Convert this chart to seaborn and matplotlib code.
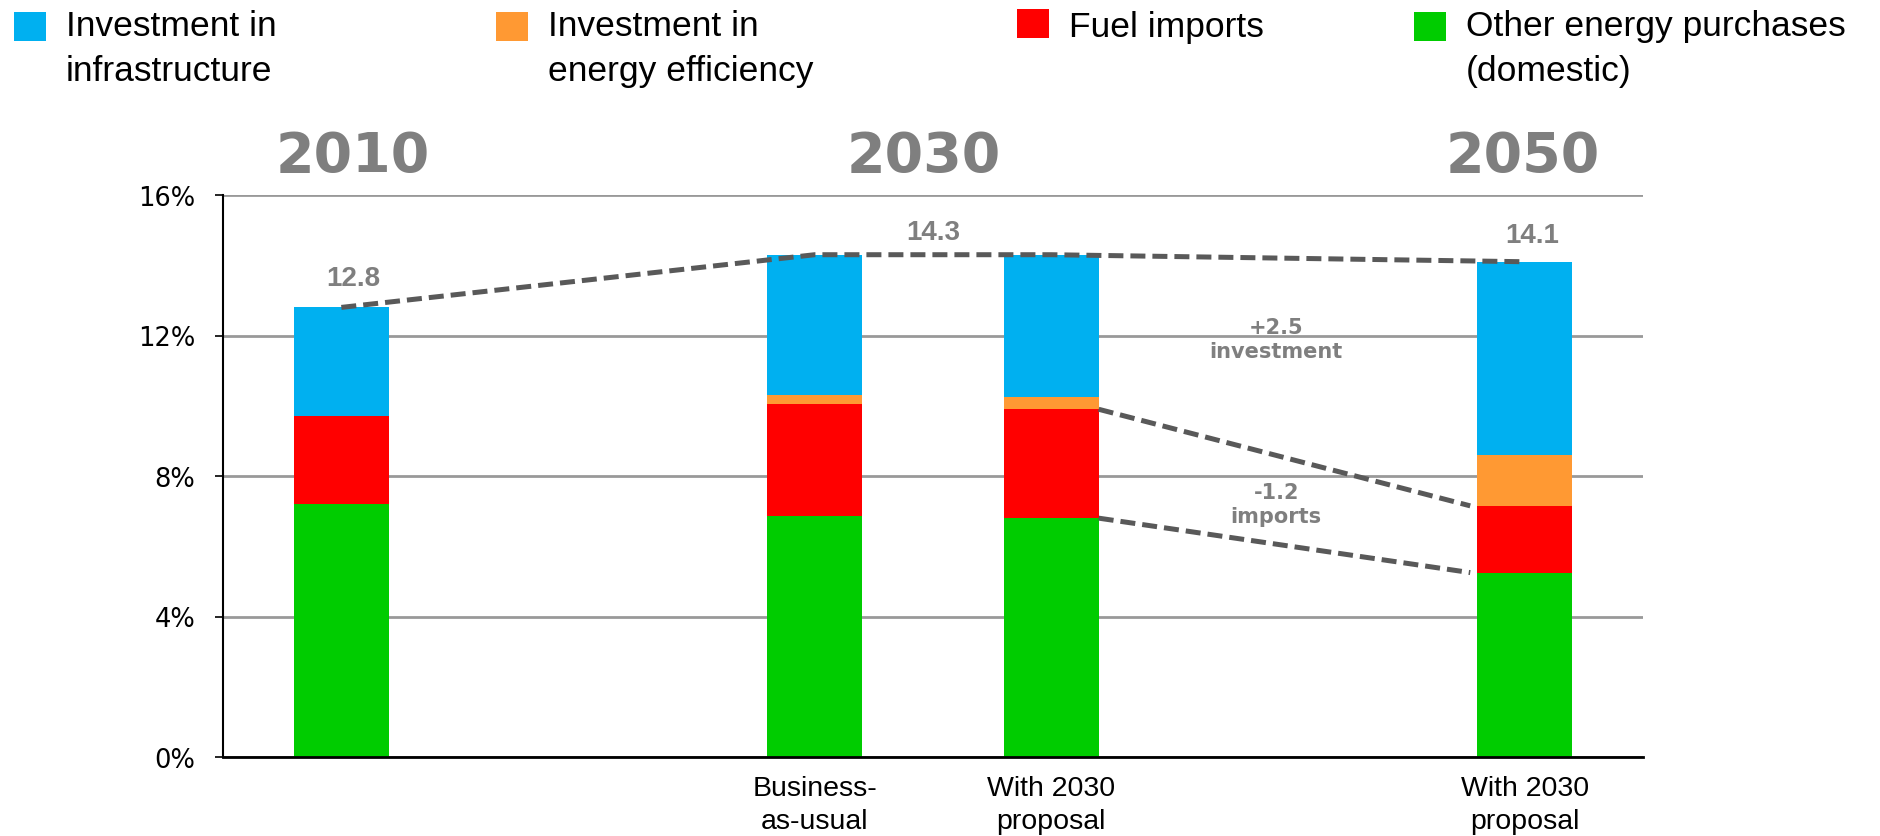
import numpy as np
import pandas as pd
import matplotlib.pyplot as plt
import seaborn as sns
from matplotlib.patches import Patch, Rectangle
from matplotlib.legend_handler import HandlerPatch

# slots on the x axis (empty ones leave the gaps between years)
slots = ["s2010", "gap1", "bau2030", "prop2030", "gap2", "prop2050"]
bar_slots = ["s2010", "bau2030", "prop2030", "prop2050"]
bar_labels = ["", "Business-\nas-usual", "With 2030\nproposal", "With 2030\nproposal"]
years = ["2010", "2030", "2050"]

# share of GDP, %
domestic = [7.2, 6.85, 6.8, 5.25]
imports = [2.5, 3.2, 3.1, 1.9]
efficiency = [0.0, 0.25, 0.35, 1.45]
infrastructure = [3.1, 4.0, 4.05, 5.5]
total_labels = ["12.8", "14.3", "14.1"]

series_names = ["Investment in\ninfrastructure", "Investment in\nenergy efficiency",
                "Fuel imports", "Other energy purchases\n(domestic)"]
colors = ["#00B0F0", "#FF9933", "#FF0000", "#00CC00"]
gray = "#7F7F7F"

df = pd.DataFrame({"slot": bar_slots, "domestic": domestic, "imports": imports,
                   "efficiency": efficiency, "infrastructure": infrastructure})
df["c_dom"] = df["domestic"]
df["c_imp"] = df["c_dom"] + df["imports"]
df["c_eff"] = df["c_imp"] + df["efficiency"]
df["c_inf"] = df["c_eff"] + df["infrastructure"]

sns.set_style("white")
plt.rcParams["font.family"] = ["DejaVu Sans"]
plt.rcParams["text.color"] = "black"
plt.rcParams["xtick.color"] = "black"
plt.rcParams["ytick.color"] = "black"

fig = plt.figure(figsize=(18.81, 8.37), dpi=100)
ax = fig.add_axes([223 / 1881, 1 - 758 / 837, 1420 / 1881, 562 / 837])

# stacked bars: draw cumulative heights from the top layer down
for col, c in zip(["c_inf", "c_eff", "c_imp", "c_dom"], colors):
    sns.barplot(data=df, x="slot", y=col, order=slots, color=c, saturation=1,
                width=0.4, errorbar=None, linewidth=0, ax=ax)

pos = {s: i for i, s in enumerate(slots)}
xb = [pos[s] for s in bar_slots]
tot = df["c_inf"].tolist()
imp_top = df["c_imp"].tolist()
dom_top = df["c_dom"].tolist()

dash = dict(color="#595959", lw=3.6, ls=(0, (3, 1.4)), zorder=5)
ax.plot(xb, tot, **dash)
ax.plot([xb[2] + 0.2, xb[3] - 0.23], [imp_top[2], imp_top[3]], **dash)
ax.plot([xb[2] + 0.2, xb[3] - 0.23], [dom_top[2], dom_top[3]], **dash)

# totals
for x, y, t in zip([xb[0] + 0.05, 2.5, xb[3] + 0.03], [13.65, 14.95, 14.85], total_labels):
    ax.text(x, y, t, ha="center", va="center", fontsize=20, fontweight="bold",
            color=gray, family="Liberation Sans")

ax.text(3.95, 11.9, "+2.5\ninvestment", ha="center", va="center", fontsize=15,
        fontweight="bold", color=gray, linespacing=1.3)
ax.text(3.95, 7.2, "-1.2\nimports", ha="center", va="center", fontsize=15,
        fontweight="bold", color=gray, linespacing=1.3)

for x, t in zip([0.05, 2.46, 4.99], years):
    ax.text(x, 17.1, t, ha="center", va="center", fontsize=40, fontweight="bold",
            color=gray, clip_on=False)

ax.set_xlim(-0.5, 5.5)
ax.set_ylim(0, 16)
ax.set_yticks([0, 4, 8, 12, 16])
ax.set_yticklabels([f"{v}%" for v in [0, 4, 8, 12, 16]], fontsize=18.5)
ax.yaxis.grid(True, color="#999999", lw=2)
ax.set_axisbelow(True)
ax.set_xticks(np.arange(-0.5, 6, 1))
ax.set_xticklabels([])
ax.set_xticks(xb, minor=True)
ax.set_xticklabels(bar_labels, minor=True, fontsize=20.5, family="Liberation Sans",
                   linespacing=1.35)
ax.tick_params(axis="x", which="major", length=11, width=1.2, direction="out")
ax.tick_params(axis="x", which="minor", length=0, pad=13)
ax.tick_params(axis="y", length=6, width=1.2, direction="out", pad=14, left=True)
ax.set_xlabel("")
ax.set_ylabel("")
for s in ["top", "right"]:
    ax.spines[s].set_visible(False)
ax.spines["left"].set_color("black")
ax.spines["left"].set_linewidth(1.5)
ax.spines["bottom"].set_color("black")
ax.spines["bottom"].set_linewidth(2)


# square handle lifted to sit beside the first line of a two-line label
def first_line_square(legend, orig_handle, xdescent, ydescent, width, height, fontsize):
    return Rectangle((-xdescent, -ydescent + 16.2), width, height)


# legend entries placed one by one across the top
for name, c, x in zip(series_names, colors, [14, 496, 1017, 1414]):
    h = Patch(facecolor=c, edgecolor="none", label=name)
    hmap = {h: HandlerPatch(patch_func=first_line_square)} if "\n" in name else None
    leg = fig.legend(handles=[h], loc="upper left", bbox_to_anchor=(x / 1881, 1 - 10 / 837),
                     frameon=False, borderpad=0, borderaxespad=0, handlelength=0.89,
                     handleheight=0.89, handletextpad=0.58, handler_map=hmap,
                     prop={"family": "Liberation Sans", "size": 25.5})
    for t in leg.get_texts():
        t.set_linespacing(1.45)

fig.savefig("out.png", dpi=100)
